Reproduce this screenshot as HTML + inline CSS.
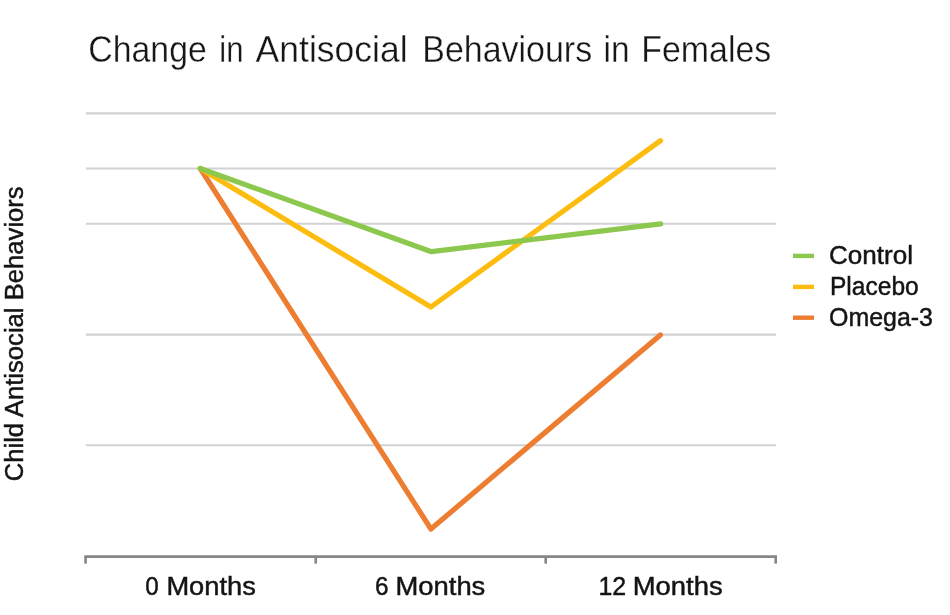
<!DOCTYPE html>
<html>
<head>
<meta charset="utf-8">
<title>Change in Antisocial Behaviours in Females</title>
<style>
  html, body { margin: 0; padding: 0; background: #ffffff; }
  body { width: 950px; height: 615px; overflow: hidden; font-family: "Liberation Sans", sans-serif; }
  svg { display: block; filter: blur(0.5px); }
  text { font-family: "Liberation Sans", sans-serif; fill: #1c1c1c; }
  .title text { fill: #161616; stroke: #ffffff; stroke-width: 0.35px; }
  .lbl { font-size: 25px; }
  .lbl text { fill: #141414; stroke: #141414; stroke-width: 0.45px; }
</style>
</head>
<body>
<svg width="950" height="615" viewBox="0 0 950 615">
  <rect x="0" y="0" width="950" height="615" fill="#ffffff"/>

  <!-- Title (word by word so widths match) -->
  <g class="title" font-size="36.5">
    <text x="88.3" y="61.8" textLength="118.5" lengthAdjust="spacingAndGlyphs">Change</text>
    <text x="219.3" y="61.8" textLength="24.2" lengthAdjust="spacingAndGlyphs">in</text>
    <text x="255.6" y="61.8" textLength="152" lengthAdjust="spacingAndGlyphs">Antisocial</text>
    <text x="422.3" y="61.8" textLength="169.8" lengthAdjust="spacingAndGlyphs">Behaviours</text>
    <text x="603.6" y="61.8" textLength="26" lengthAdjust="spacingAndGlyphs">in</text>
    <text x="641.3" y="61.8" textLength="130" lengthAdjust="spacingAndGlyphs">Females</text>
  </g>

  <!-- Gridlines -->
  <g stroke="#d2d1d5" stroke-width="2.1" fill="none">
    <line x1="85.9" y1="113.4" x2="776" y2="113.4"/>
    <line x1="85.9" y1="168.5" x2="776" y2="168.5"/>
    <line x1="85.9" y1="223.7" x2="776" y2="223.7"/>
    <line x1="85.9" y1="334.6" x2="776" y2="334.6"/>
    <line x1="85.9" y1="445.2" x2="776" y2="445.2"/>
  </g>

  <!-- X axis + ticks -->
  <g stroke="#868686" stroke-width="2.6" fill="none">
    <line x1="84.3" y1="556.6" x2="777" y2="556.6"/>
    <line x1="85.6" y1="556.6" x2="85.6" y2="563.6"/>
    <line x1="315.7" y1="556.6" x2="315.7" y2="563.6"/>
    <line x1="545.7" y1="556.6" x2="545.7" y2="563.6"/>
    <line x1="775.7" y1="556.6" x2="775.7" y2="563.6"/>
  </g>

  <!-- Series -->
  <g fill="none" stroke-width="5.2" stroke-linecap="round" stroke-linejoin="round">
    <polyline stroke="#ed7d30" points="200.3,168.5 430.9,529 660.4,335"/>
    <polyline stroke="#fdbd10" points="200.3,168.5 430.9,307 660.5,140.7"/>
    <polyline stroke="#8dc84e" points="200.3,168.5 431.5,251.7 660.7,223.9"/>
  </g>

  <!-- Legend -->
  <g stroke-width="4.4" fill="none">
    <line x1="793" y1="255.9" x2="814" y2="255.9" stroke="#8dc84e"/>
    <line x1="793" y1="286.9" x2="814" y2="286.9" stroke="#fdbd10"/>
    <line x1="793" y1="317.7" x2="814" y2="317.7" stroke="#ed7d30"/>
  </g>
  <g class="lbl">
    <text x="829" y="264.2" textLength="84" lengthAdjust="spacingAndGlyphs">Control</text>
    <text x="830" y="295.2" textLength="88.7" lengthAdjust="spacingAndGlyphs">Placebo</text>
    <text x="829" y="326" textLength="104" lengthAdjust="spacingAndGlyphs">Omega-3</text>
  </g>

  <!-- X labels -->
  <g class="lbl">
    <text x="145.2" y="595.2" textLength="13.5" lengthAdjust="spacingAndGlyphs">0</text>
    <text x="166.4" y="595.2" textLength="89.4" lengthAdjust="spacingAndGlyphs">Months</text>
    <text x="374.9" y="595.2" textLength="13.5" lengthAdjust="spacingAndGlyphs">6</text>
    <text x="395.5" y="595.2" textLength="89.8" lengthAdjust="spacingAndGlyphs">Months</text>
    <text x="598.4" y="595.2" textLength="27.7" lengthAdjust="spacingAndGlyphs">12</text>
    <text x="632.8" y="595.2" textLength="89.8" lengthAdjust="spacingAndGlyphs">Months</text>
  </g>

  <!-- Y label -->
  <g class="lbl" transform="translate(23.0,481.3) rotate(-90)">
    <text x="0" y="0" textLength="295" lengthAdjust="spacingAndGlyphs" font-size="25">Child Antisocial Behaviors</text>
  </g>
</svg>
</body>
</html>
